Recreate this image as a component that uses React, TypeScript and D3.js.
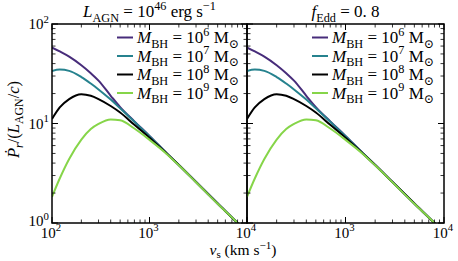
import React from "react";
import * as d3 from "d3";

const vGrid = [100, 120, 150, 200, 250, 300, 400, 500, 700, 1000, 1500, 2000, 3000, 5000, 8000, 10000];
const pM6 = [58, 53, 47, 38.5, 32, 27, 19.0, 14.6, 10.5, 7.5, 5.03, 3.83, 2.58, 1.57, 1.0, 0.8];
const pM7 = [33.7, 34.8, 33.8, 29.3, 25.2, 22.0, 17.4, 14.2, 10.4, 7.45, 5.03, 3.83, 2.58, 1.57, 1.0, 0.8];
const pM8 = [11.1, 14.5, 17.6, 19.7, 19.0, 17.6, 15.0, 12.9, 9.7, 7.2, 5.0, 3.83, 2.58, 1.57, 1.0, 0.8];
const pM9 = [1.83, 2.8, 4.4, 6.9, 8.8, 9.9, 11.0, 10.8, 8.9, 6.85, 4.95, 3.8, 2.57, 1.56, 1.0, 0.8];
const massExps = ["6", "7", "8", "9"];
const seriesColors = ["#472c7a", "#26828e", "#000000", "#86d549"];
const xTickExps = [2, 3, 4];
const yTickExps = [0, 1, 2];

type Seg = { t: string; it?: boolean; pos?: "sub" | "sup" };

const FONT = "'Liberation Serif', 'DejaVu Serif', serif";

function Rich({ x, y, segs, size, anchor = "start", transform, subK = 0.27, supK = 0.42 }: { x: number; y: number; segs: Seg[]; size: number; anchor?: string; transform?: string; subK?: number; supK?: number }) {
  let cur = 0;
  const spans = segs.map((s, i) => {
    const target = s.pos === "sub" ? size * subK : s.pos === "sup" ? -size * supK : 0;
    const dy = target - cur;
    cur = target;
    const fs = s.pos ? size * 0.72 : size;
    return (
      <tspan key={i} dy={dy} fontSize={fs} fontStyle={s.it ? "italic" : "normal"}>
        {s.t}
      </tspan>
    );
  });
  return (
    <text x={x} y={y} fontFamily={FONT} fontSize={size} textAnchor={anchor} transform={transform} fill="#000" style={{ whiteSpace: "pre" }}>
      {spans}
    </text>
  );
}

const W = 458, H = 261;
const top = 24, bottom = 223;
const panels = [
  { x0: 52, x1: 247 },
  { x0: 247, x1: 444 },
];

export default function App() {
  const yScale = d3.scaleLog().domain([1, 100]).range([bottom, top]);
  const series = [pM6, pM7, pM8, pM9];
  const minorY: number[] = [];
  for (let e = 0; e < 2; e++) for (let k = 2; k <= 9; k++) minorY.push(k * Math.pow(10, e));
  const minorX: number[] = [];
  for (let e = 2; e < 4; e++) for (let k = 2; k <= 9; k++) minorX.push(k * Math.pow(10, e));

  return (
    <svg width={W} height={H} style={{ position: "absolute", left: 0, top: 0, background: "#fff" }}>
      <rect width={W} height={H} fill="#fff" />
      <defs>
        {panels.map((p, i) => (
          <clipPath id={`clip${i}`} key={i}>
            <rect x={p.x0} y={top} width={p.x1 - p.x0} height={bottom - top} />
          </clipPath>
        ))}
      </defs>
      {panels.map((p, pi) => {
        const xScale = d3.scaleLog().domain([100, 10000]).range([p.x0, p.x1]);
        const line = d3
          .line<number>()
          .x((_, i) => xScale(vGrid[i]))
          .y((d) => yScale(d))
          .curve(d3.curveMonotoneX);
        const legX = p.x0 + 65;
        return (
          <g key={pi}>
            <g clipPath={`url(#clip${pi})`}>
              {series.map((s, si) => (
                <path key={si} d={line(s) || ""} fill="none" stroke={seriesColors[si]} strokeWidth={2} />
              ))}
            </g>
            {xTickExps.map((e) => {
              const x = xScale(Math.pow(10, e));
              return (
                <g key={"xm" + e}>
                  <line x1={x} x2={x} y1={bottom} y2={bottom - 6} stroke="#000" strokeWidth={1} />
                  <line x1={x} x2={x} y1={top} y2={top + 6} stroke="#000" strokeWidth={1} />
                </g>
              );
            })}
            {minorX.map((v) => {
              const x = xScale(v);
              return (
                <g key={"xn" + v}>
                  <line x1={x} x2={x} y1={bottom} y2={bottom - 3.5} stroke="#000" strokeWidth={0.8} />
                  <line x1={x} x2={x} y1={top} y2={top + 3.5} stroke="#000" strokeWidth={0.8} />
                </g>
              );
            })}
            {yTickExps.map((e) => {
              const y = yScale(Math.pow(10, e));
              return (
                <g key={"ym" + e}>
                  <line x1={p.x0} x2={p.x0 + 6} y1={y} y2={y} stroke="#000" strokeWidth={1} />
                  <line x1={p.x1} x2={p.x1 - 6} y1={y} y2={y} stroke="#000" strokeWidth={1} />
                </g>
              );
            })}
            {minorY.map((v) => {
              const y = yScale(v);
              return (
                <g key={"yn" + v}>
                  <line x1={p.x0} x2={p.x0 + 3.5} y1={y} y2={y} stroke="#000" strokeWidth={0.8} />
                  <line x1={p.x1} x2={p.x1 - 3.5} y1={y} y2={y} stroke="#000" strokeWidth={0.8} />
                </g>
              );
            })}
            <rect x={p.x0} y={top} width={p.x1 - p.x0} height={bottom - top} fill="none" stroke="#000" strokeWidth={1.5} />
            {xTickExps
              .filter((e) => !(pi === 1 && e === 2))
              .map((e) => (
                <Rich key={"xl" + e} x={xScale(Math.pow(10, e)) - 1} y={237.5} size={15} anchor="middle" segs={[{ t: "10" }, { t: String(e), pos: "sup" }]} />
              ))}
            {pi === 0 &&
              yTickExps.map((e) => (
                <Rich key={"yl" + e} x={49} y={yScale(Math.pow(10, e)) + (e === 0 ? 3 : 5)} size={15} anchor="end" segs={[{ t: "10" }, { t: String(e), pos: "sup" }]} />
              ))}
            {massExps.map((m, i) => {
              const y = 37.5 + i * 18.5;
              return (
                <g key={"lg" + i}>
                  <line x1={legX} x2={legX + 16} y1={y} y2={y} stroke={seriesColors[i]} strokeWidth={2} />
                  <Rich
                    x={legX + 20}
                    y={y + 5.5}
                    size={17}
                    segs={[
                      { t: "M", it: true },
                      { t: "BH", pos: "sub" },
                      { t: " = 10" },
                      { t: m, pos: "sup" },
                      { t: " M" },
                      { t: "⊙", pos: "sub" },
                    ]}
                  />
                </g>
              );
            })}
          </g>
        );
      })}
      <Rich
        x={149.5}
        y={17}
        size={17}
        anchor="middle"
        segs={[
          { t: "L", it: true },
          { t: "AGN", pos: "sub" },
          { t: " = 10" },
          { t: "46", pos: "sup" },
          { t: " erg s" },
          { t: "−1", pos: "sup" },
        ]}
      />
      <Rich
        x={345.5}
        y={17}
        size={17}
        anchor="middle"
        segs={[{ t: "f", it: true }, { t: "Edd", pos: "sub" }, { t: " = 0. 8" }]}
      />
      <Rich
        x={0}
        y={0}
        size={16.5}
        anchor="middle"
        transform={`translate(19,${(top + bottom) / 2 - 4}) rotate(-90)`}
        segs={[
          { t: "Ṗ", it: true },
          { t: "r", it: true, pos: "sub" },
          { t: "/(" },
          { t: "L", it: true },
          { t: "AGN", pos: "sub" },
          { t: "/" },
          { t: "c", it: true },
          { t: ")" },
        ]}
      />
      <Rich
        x={243}
        y={255}
        size={15.5}
        anchor="middle"
        subK={0.2}
        supK={0.36}
        segs={[{ t: "v", it: true }, { t: "s", pos: "sub" }, { t: " (km s" }, { t: "−1", pos: "sup" }, { t: ")" }]}
      />
    </svg>
  );
}
